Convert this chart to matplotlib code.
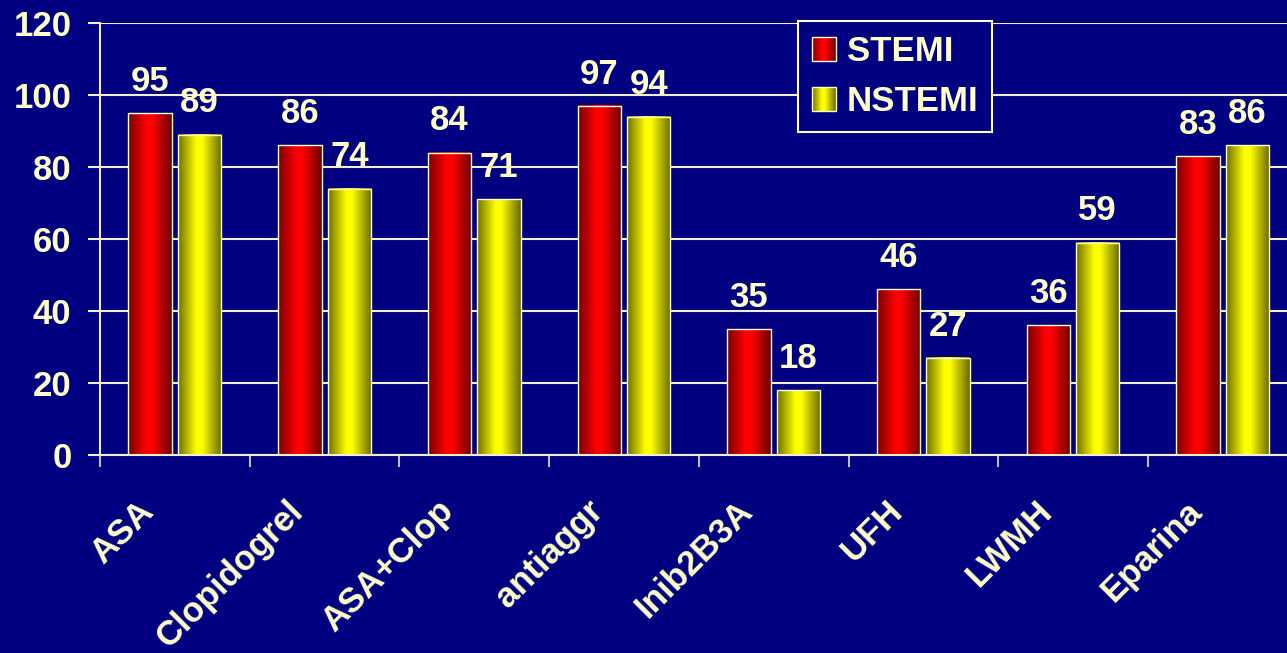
import numpy as np
import matplotlib
matplotlib.use('Agg')
import matplotlib.pyplot as plt
from matplotlib.colors import LinearSegmentedColormap
from matplotlib.patches import Rectangle
from matplotlib.legend_handler import HandlerBase
from matplotlib.transforms import ScaledTranslation

categories = ['ASA', 'Clopidogrel', 'ASA+Clop', 'antiaggr', 'Inib2B3A', 'UFH', 'LWMH', 'Eparina']
stemi = [95, 86, 84, 97, 35, 46, 36, 83]
nstemi = [89, 74, 71, 94, 18, 27, 59, 86]
series_names = ['STEMI', 'NSTEMI']
yticks = [0, 20, 40, 60, 80, 100, 120]

plt.rcParams['font.family'] = ['Liberation Sans', 'DejaVu Sans']
BG = '#000080'
TXT = '#FFFFCC'
GRID = '#F2EDCF'
FS = 25

red_cmap = LinearSegmentedColormap.from_list('r', [(0, '#760000'), (0.42, '#ff0000'), (0.55, '#ff0000'), (1, '#6a0000')])
yel_cmap = LinearSegmentedColormap.from_list('y', [(0, '#6e6e00'), (0.42, '#ffff00'), (0.55, '#ffff00'), (1, '#686800')])

W, H = 1287, 653
fig = plt.figure(figsize=(W / 100, H / 100), dpi=100, facecolor=BG)
ax = fig.add_axes([100 / W, (H - 455) / H, 1 - 100 / W, (455 - 23) / H])
ax.set_facecolor(BG)

x = np.arange(len(categories))
bw = 0.29
off = 0.165
c1 = ax.bar(x - off, stemi, width=bw, facecolor='none', edgecolor=TXT, linewidth=1.0, zorder=3)
c2 = ax.bar(x + off, nstemi, width=bw, facecolor='none', edgecolor=TXT, linewidth=1.0, zorder=3)

g = np.linspace(0, 1, 256).reshape(1, -1)
for cont, cmap in ((c1, red_cmap), (c2, yel_cmap)):
    for b in cont:
        x0, y0, w, h = b.get_x(), b.get_y(), b.get_width(), b.get_height()
        ax.imshow(g, cmap=cmap, extent=[x0, x0 + w, y0, y0 + h], aspect='auto', zorder=2.5,
                  interpolation='bilinear')

for cont in (c1, c2):
    ax.bar_label(cont, padding=11, color=TXT, fontsize=FS, fontweight='bold')

ax.set_yticks(yticks)
ax.yaxis.grid(True, color=GRID, linewidth=1.5, zorder=0)
ax.set_axisbelow(True)

for s in ('top', 'right'):
    ax.spines[s].set_visible(False)
for s in ('left', 'bottom'):
    ax.spines[s].set_color(GRID)
    ax.spines[s].set_linewidth(1.5)

ax.tick_params(axis='y', colors=GRID, length=8.6, width=1.5, pad=12)
for lab in ax.get_yticklabels():
    lab.set_color(TXT)
    lab.set_fontsize(FS)
    lab.set_fontweight('bold')

ax.set_xticks(x)
ax.set_xticklabels(categories, rotation=45, ha='right', va='center', rotation_mode='anchor',
                   fontsize=FS, fontweight='bold', color=TXT)
ax.set_xticks(np.arange(-0.5, len(categories), 1.0), minor=True)
ax.tick_params(axis='x', which='major', length=0, pad=36.7)
ax.tick_params(axis='x', which='minor', length=8.6, width=1.5, color='#BDBDB0')
shift = ScaledTranslation(-26 / 100, 0, fig.dpi_scale_trans)
for lab in ax.get_xticklabels():
    lab.set_transform(lab.get_transform() + shift)

ax.set_xlim(-0.5, -0.5 + (W - 100) / 149.7)
ax.set_ylim(0, 120)


class GradHandler(HandlerBase):
    def __init__(self, cmap):
        super().__init__()
        self.cmap = cmap

    def create_artists(self, legend, orig_handle, xdescent, ydescent, width, height, fontsize, trans):
        n = 24
        arts = []
        for i in range(n):
            arts.append(Rectangle((-xdescent + width * i / n, -ydescent), width / n * 1.05, height,
                                  facecolor=self.cmap((i + 0.5) / n), edgecolor='none', transform=trans))
        arts.append(Rectangle((-xdescent, -ydescent), width, height, facecolor='none',
                              edgecolor=TXT, linewidth=1.0, transform=trans))
        return arts


h1 = Rectangle((0, 0), 1, 1)
h2 = Rectangle((0, 0), 1, 1)
leg = fig.legend([h1, h2], series_names, loc='upper left', bbox_to_anchor=(798 / W, 1 - 21 / H),
                 handler_map={h1: GradHandler(red_cmap), h2: GradHandler(yel_cmap)},
                 prop={'size': FS, 'weight': 'bold'}, labelcolor=TXT, frameon=True,
                 facecolor=BG, edgecolor=TXT, framealpha=1, fancybox=False,
                 handlelength=0.7, handleheight=0.7, handletextpad=0.3,
                 labelspacing=0.5, borderpad=0.4, borderaxespad=0)
leg.get_frame().set_linewidth(1.5)

fig.savefig('out.png', dpi=100, facecolor=BG)
